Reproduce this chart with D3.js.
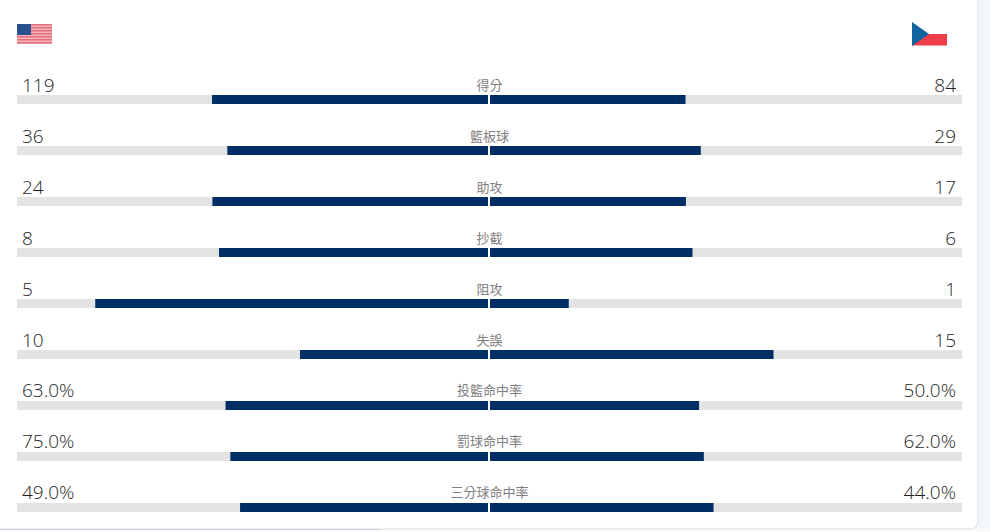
<!DOCTYPE html>
<html>
<head>
<meta charset="utf-8">
<script src="https://cdn.jsdelivr.net/npm/d3@7/dist/d3.min.js"></script>
<style>
html, body { margin: 0; padding: 0; background: #f4f7fa; overflow: hidden; }
svg { display: block; }
</style>
</head>
<body>
<svg id="chart" width="990" height="532"></svg>
<script>
// Box score comparison: USA against the Czech Republic
const statLabels = ["得分", "籃板球", "助攻", "抄截", "阻攻", "失誤", "投籃命中率", "罰球命中率", "三分球命中率"];
const homeValues = [119, 36, 24, 8, 5, 10, 63, 75, 49];
const awayValues = [84, 29, 17, 6, 1, 15, 50, 62, 44];
const valueSuffixes = ["", "", "", "", "", "", "%", "%", "%"];
const valueDecimals = [0, 0, 0, 0, 0, 0, 1, 1, 1];

const svg = d3.select("#chart");
const left = 17, right = 962, rowTop = 95, rowStep = 51, barHeight = 9;
const homeEdge = 489, awayEdge = 490;
const numberFont = "'Open Sans', sans-serif";
const labelFont = "'Noto Sans CJK TC', sans-serif";

const rowY = d3.scaleLinear().domain([0, 1]).range([rowTop, rowTop + rowStep]);
const shareWidth = d3.scaleLinear().domain([0, 1]).range([0, (right - left) / 2]);
const fmt = (i, v) => v.toFixed(valueDecimals[i]) + valueSuffixes[i];
const textShift = i => (valueSuffixes[i] ? -1 : 0);

// Page strip beneath the card and the card itself
svg.append("rect").attr("y", 529).attr("width", 990).attr("height", 3).attr("fill", "#fbfcfd");
svg.append("line").attr("x1", 0).attr("x2", 380).attr("y1", 529.5).attr("y2", 529.5).attr("stroke", "#c4c7cb");
svg.append("rect").attr("x", -12).attr("y", -12).attr("width", 990).attr("height", 541)
  .attr("rx", 8).attr("fill", "#fff").attr("stroke", "#dcdfe3").attr("stroke-width", 1);

// Flags
const us = svg.append("g").attr("transform", "translate(17,24)");
us.append("rect").attr("width", 35).attr("height", 20).attr("fill", "#f8b4ba");
d3.range(7).forEach(i => us.append("rect").attr("y", i * 3).attr("width", 35).attr("height", 1.5).attr("fill", "#e2707c"));
us.append("rect").attr("width", 14).attr("height", 11).attr("fill", "#28508e");

const cz = svg.append("g").attr("transform", "translate(912,22)");
cz.append("rect").attr("x", 0).attr("y", 12).attr("width", 35).attr("height", 11.5).attr("fill", "#ef3e4a");
cz.append("path").attr("d", d3.line()([[0, 0], [17, 12], [0, 24]])).attr("fill", "#11659f");

// Rows
const rows = svg.selectAll("g.row").data(statLabels).join("g").attr("class", "row")
  .attr("transform", (d, i) => `translate(0,${rowY(i)})`);

rows.append("rect").attr("x", left).attr("width", right - left).attr("height", barHeight).attr("fill", "#e3e3e3");

rows.append("rect")
  .attr("x", (d, i) => homeEdge - shareWidth(homeValues[i] / (homeValues[i] + awayValues[i])))
  .attr("width", (d, i) => shareWidth(homeValues[i] / (homeValues[i] + awayValues[i])))
  .attr("height", barHeight).attr("fill", "#002f65");

rows.append("rect")
  .attr("x", awayEdge)
  .attr("width", (d, i) => shareWidth(awayValues[i] / (homeValues[i] + awayValues[i])))
  .attr("height", barHeight).attr("fill", "#002f65");

// White divider at the midpoint
rows.append("rect").attr("x", homeEdge - 1).attr("width", 2).attr("height", barHeight).attr("fill", "#fff");

rows.append("text").attr("x", 22).attr("y", (d, i) => -3 + textShift(i))
  .attr("font-family", numberFont).attr("font-size", 19).attr("font-weight", 300).attr("fill", "#1f1f1f")
  .text((d, i) => fmt(i, homeValues[i]));

rows.append("text").attr("x", 956).attr("y", (d, i) => -3 + textShift(i)).attr("text-anchor", "end")
  .attr("font-family", numberFont).attr("font-size", 19).attr("font-weight", 300).attr("fill", "#1f1f1f")
  .text((d, i) => fmt(i, awayValues[i]));

rows.append("text").attr("x", homeEdge + 0.5).attr("y", (d, i) => -5 + textShift(i)).attr("text-anchor", "middle")
  .attr("font-family", labelFont).attr("font-size", 13).attr("fill", "#808080")
  .text(d => d);
</script>
</body>
</html>
